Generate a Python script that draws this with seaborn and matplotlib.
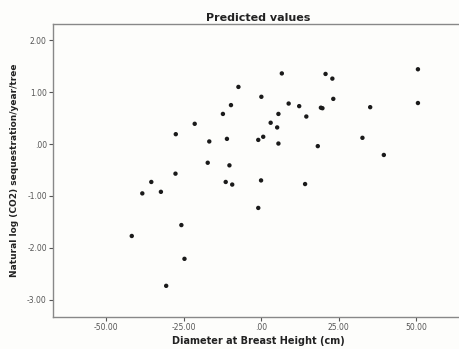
import matplotlib
matplotlib.use("Agg")
import matplotlib.pyplot as plt
import seaborn as sns
import pandas as pd
from matplotlib.ticker import FuncFormatter

dbh = [-27.5, -27.6, -35.4, -38.3, -32.3, -41.7, -30.6, 6.7, -7.3, 0.1,
       -9.7, 8.9, 12.3, -12.3, 5.6, 14.6, -21.4, 3.1, 5.2, -16.7,
       -11.0, -0.9, 0.7, 5.6, -17.2, -10.2, -11.4, -9.3, 0.0, -0.9,
       14.2, -25.7, -24.7, 50.6, 20.8, 23.0, 23.3, 19.3, 19.8, 35.2,
       50.6, 32.7, 18.3, 39.6]
log_co2 = [0.19, -0.57, -0.73, -0.95, -0.92, -1.77, -2.73, 1.36, 1.10, 0.91,
           0.75, 0.78, 0.73, 0.58, 0.58, 0.53, 0.39, 0.41, 0.32, 0.05,
           0.10, 0.08, 0.14, 0.01, -0.36, -0.41, -0.73, -0.78, -0.70, -1.23,
           -0.77, -1.56, -2.21, 1.44, 1.35, 1.26, 0.87, 0.70, 0.69, 0.71,
           0.79, 0.12, -0.04, -0.21]
x_ticks = [-50, -25, 0, 25, 50]
y_ticks = [2, 1, 0, -1, -2, -3]

df = pd.DataFrame({"dbh": dbh, "y": log_co2})

sns.set_style("white")
fig = plt.figure(figsize=(4.59, 3.49), dpi=100, facecolor="#fdfdfb")
ax = fig.add_axes([0.1155, 0.0917, 0.8950, 0.8393])
ax.set_facecolor("#fdfdfb")
sns.scatterplot(data=df, x="dbh", y="y", ax=ax, color="#1a1a1a", s=10,
                edgecolor="none", linewidth=0)

ax.set_xlim(-67.1, 65.4)
ax.set_ylim(-3.33, 2.31)
ax.set_xticks(x_ticks)
ax.set_yticks(y_ticks)

def fmt(v, pos):
    s = f"{v:.2f}"
    if s.startswith("0."):
        s = s[1:]
    elif s.startswith("-0."):
        s = "-" + s[2:]
    return s

ax.xaxis.set_major_formatter(FuncFormatter(fmt))
ax.yaxis.set_major_formatter(FuncFormatter(fmt))
ax.tick_params(axis="both", which="major", direction="out", length=3, width=0.8,
               colors="#555555", labelsize=5.5, labelcolor="#555555", pad=1.5,
               bottom=True, left=True)

for sp in ax.spines.values():
    sp.set_color("#888888")
    sp.set_linewidth(1.0)
ax.spines["right"].set_visible(False)

ax.set_xlabel("Diameter at Breast Height (cm)", fontsize=7, fontweight="bold",
              color="#222222", labelpad=3)
ax.set_ylabel("Natural log (CO2) sequestration/year/tree", fontsize=6.5,
              fontweight="bold", color="#222222", labelpad=6)
ax.set_title("Predicted values", fontsize=8, fontweight="bold", color="#222222", pad=2)

fig.savefig("out.png", dpi=100, facecolor=fig.get_facecolor())
